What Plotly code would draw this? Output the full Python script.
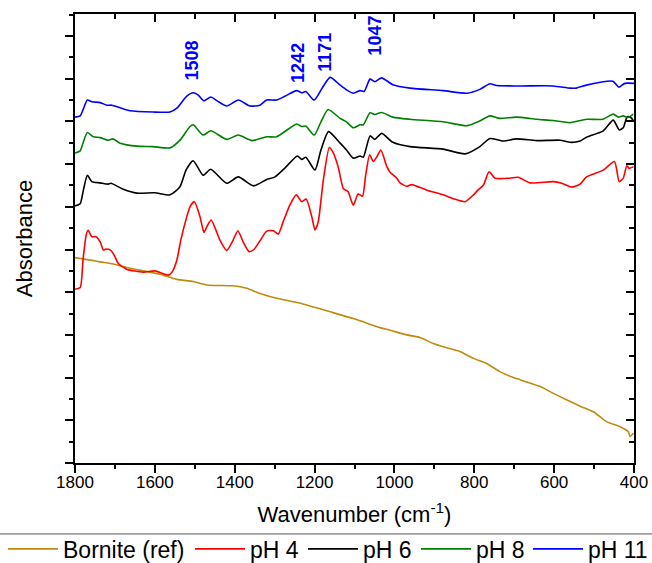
import plotly.graph_objects as go

# ---------------- data (wavenumber in cm-1, absorbance in arbitrary offset units) ----------------
bornite_wn = [1800, 1754, 1737, 1704, 1671, 1629, 1587, 1545, 1504, 1470, 1404, 1370, 1337, 1295,
              1236, 1161, 1099, 1036, 1011, 969, 936, 903, 869, 836, 802, 769, 736, 702, 669, 635,
              602, 569, 535, 502, 469, 435, 414, 410, 401]
bornite_ab = [4.81, 4.74, 4.71, 4.66, 4.58, 4.50, 4.42, 4.30, 4.25, 4.17, 4.15, 4.09, 3.97, 3.86,
              3.74, 3.54, 3.37, 3.17, 3.11, 3.00, 2.94, 2.80, 2.70, 2.61, 2.45, 2.33, 2.14, 2.00, 1.90, 1.79,
              1.63, 1.48, 1.33, 1.20, 0.97, 0.85, 0.73, 0.62, 0.70]

ph4_wn = [1800, 1787, 1780, 1772, 1767, 1758, 1747, 1737, 1729, 1722, 1712, 1702, 1692, 1671, 1629,
          1600, 1566, 1557, 1545, 1535, 1520, 1512, 1501, 1487, 1477, 1469, 1459, 1449, 1437, 1420,
          1404, 1392, 1379, 1364, 1352, 1337, 1320, 1303, 1291, 1279, 1262, 1246, 1232, 1221, 1207,
          1199, 1191, 1178, 1163, 1154, 1141, 1128, 1116, 1103, 1091, 1080, 1072, 1062, 1053, 1044,
          1034, 1019, 1011, 994, 986, 969, 957, 919, 878, 849, 823, 802, 791, 777, 763, 748, 711,
          690, 660, 602, 581, 556, 535, 519, 477, 449, 437, 427, 418, 412, 401]
ph4_ab = [4.07, 4.11, 4.75, 5.34, 5.45, 5.30, 5.30, 5.18, 4.99, 5.01, 4.99, 4.87, 4.68, 4.54, 4.47,
          4.50, 4.40, 4.47, 4.75, 5.22, 5.77, 6.00, 6.12, 5.77, 5.40, 5.55, 5.69, 5.50, 5.22, 4.98,
          5.22, 5.44, 5.18, 4.95, 5.00, 5.20, 5.43, 5.44, 5.36, 5.64, 6.04, 6.28, 6.12, 6.18, 5.77,
          5.46, 5.64, 6.63, 7.39, 7.28, 6.94, 6.43, 6.35, 6.04, 6.30, 6.25, 6.74, 7.22, 7.06, 7.17,
          7.33, 6.94, 6.81, 6.67, 6.56, 6.48, 6.52, 6.39, 6.28, 6.18, 6.12, 6.28, 6.39, 6.51, 6.82, 6.67, 6.67,
          6.69, 6.56, 6.59, 6.55, 6.46, 6.53, 6.70, 6.86, 7.06, 6.59, 6.67, 6.96, 6.90, 6.94]

ph6_wn = [1800, 1787, 1779, 1769, 1758, 1737, 1717, 1710, 1679, 1645, 1600, 1562, 1537, 1522, 1504,
          1479, 1460, 1420, 1391, 1353, 1320, 1299, 1274, 1243, 1232, 1222, 1199, 1184, 1165, 1136,
          1120, 1103, 1086, 1078, 1061, 1049, 1032, 1004, 961, 878, 823, 786, 761, 728, 694, 644,
          585, 560, 535, 519, 477, 452, 437, 427, 417, 408, 401]
ph6_ab = [6.02, 6.07, 6.39, 6.74, 6.59, 6.56, 6.53, 6.55, 6.41, 6.32, 6.33, 6.28, 6.47, 6.86, 7.08,
          6.74, 6.88, 6.55, 6.70, 6.49, 6.64, 6.70, 6.91, 7.19, 7.11, 7.16, 6.86, 7.33, 7.76, 7.49,
          7.33, 7.14, 7.19, 7.16, 7.66, 7.58, 7.72, 7.51, 7.41, 7.35, 7.24, 7.41, 7.60, 7.54, 7.59, 7.55,
          7.56, 7.51, 7.54, 7.63, 7.78, 8.03, 7.80, 7.85, 8.11, 8.09, 8.01]

ph8_wn = [1800, 1787, 1780, 1769, 1754, 1737, 1717, 1705, 1687, 1645, 1605, 1562, 1537, 1512, 1504,
          1479, 1460, 1420, 1391, 1357, 1320, 1295, 1245, 1232, 1222, 1201, 1184, 1166, 1136, 1120,
          1103, 1086, 1078, 1061, 1049, 1032, 1004, 961, 878, 818, 786, 761, 736, 694, 644, 603,
          560, 519, 478, 452, 439, 427, 415, 402]
ph8_ab = [7.26, 7.31, 7.49, 7.74, 7.64, 7.62, 7.56, 7.59, 7.49, 7.42, 7.41, 7.38, 7.56, 7.88, 7.92,
          7.68, 7.78, 7.58, 7.68, 7.55, 7.64, 7.64, 7.94, 7.88, 7.89, 7.68, 7.99, 8.28, 8.07, 7.99,
          7.85, 7.92, 7.92, 8.20, 8.16, 8.21, 8.10, 8.05, 7.99, 7.90, 8.01, 8.13, 8.07, 8.10, 8.05, 8.02,
          7.97, 8.05, 8.05, 8.17, 8.10, 8.13, 8.09, 8.17]

ph11_wn = [1800, 1787, 1780, 1769, 1758, 1737, 1720, 1708, 1687, 1662, 1605, 1562, 1545, 1520, 1504,
           1492, 1477, 1460, 1444, 1420, 1391, 1362, 1337, 1320, 1295, 1274, 1245, 1232, 1222, 1201,
           1181, 1161, 1136, 1120, 1103, 1086, 1076, 1061, 1049, 1032, 1004, 961, 878, 818, 786, 761,
           744, 686, 603, 560, 544, 519, 453, 438, 423, 400]
ph11_ab = [8.10, 8.13, 8.27, 8.50, 8.46, 8.44, 8.38, 8.38, 8.32, 8.25, 8.22, 8.22, 8.31, 8.59, 8.67,
           8.62, 8.48, 8.57, 8.48, 8.36, 8.50, 8.36, 8.38, 8.50, 8.50, 8.59, 8.72, 8.67, 8.70, 8.50,
           8.78, 9.03, 8.85, 8.74, 8.66, 8.72, 8.70, 8.99, 8.93, 9.02, 8.86, 8.78, 8.72, 8.66, 8.75, 8.88,
           8.84, 8.83, 8.83, 8.78, 8.78, 8.85, 8.94, 8.80, 8.89, 8.89]

series_names = ["Bornite (ref)", "pH 4", "pH 6", "pH 8", "pH 11"]
series_colors = ["#C08A10", "#FF0000", "#000000", "#008000", "#0000FF"]

peak_labels = ["1508", "1242", "1171", "1047"]
peak_pos = [1508, 1242, 1173, 1049]
peak_base = [8.90, 8.85, 9.11, 9.49]

x_ticks = [1800, 1600, 1400, 1200, 1000, 800, 600, 400]
x_range = [1800, 400]
y_range = [0, 10.515]

# ---------------- figure ----------------
FONT = "Liberation Sans, Arial, sans-serif"
legend_ids = ["legend", "legend2", "legend3", "legend4", "legend5"]
legend_x = [0.0046, 0.2914, 0.4647, 0.638, 0.8098]   # left edge of each legend entry (fraction of width)

fig = go.Figure()
all_x = [bornite_wn, ph4_wn, ph6_wn, ph8_wn, ph11_wn]
all_y = [bornite_ab, ph4_ab, ph6_ab, ph8_ab, ph11_ab]
for name, col, xs, ys, lid in zip(series_names, series_colors, all_x, all_y, legend_ids):
    fig.add_trace(go.Scatter(x=xs, y=ys, mode="lines", name=name, legend=lid,
                             line=dict(color=col, width=1.6, shape="spline", smoothing=0.6)))

# invisible trace so that the mirrored top/right axes are drawn
fig.add_trace(go.Scatter(x=[None], y=[None], xaxis="x2", yaxis="y2", showlegend=False,
                         hoverinfo="skip", mode="lines"))

for lab, xp, yb in zip(peak_labels, peak_pos, peak_base):
    fig.add_annotation(x=xp, y=yb, text="<b>%s</b>" % lab, textangle=-90, showarrow=False,
                       xanchor="center", yanchor="bottom",
                       font=dict(family=FONT, size=18, color="#0000FF"))

fig.add_shape(type="line", xref="paper", yref="paper", x0=-0.14, x1=1.04, y0=-0.158, y1=-0.158,
              line=dict(color="#555555", width=1))

axis_common = dict(showgrid=False, zeroline=False, showline=True, linecolor="black", linewidth=2,
                   tickcolor="black", tickwidth=1.6)

legend_layout = {}
for lid, lx in zip(legend_ids, legend_x):
    legend_layout[lid] = dict(orientation="h", xref="container", yref="container", x=lx,
                              xanchor="left", y=0.025, yanchor="middle",
                              font=dict(family=FONT, size=23), bgcolor="rgba(0,0,0,0)",
                              itemwidth=50, tracegroupgap=0)

fig.update_layout(
    width=652, height=563,
    margin=dict(l=75, r=18, t=14, b=100, autoexpand=False),
    plot_bgcolor="white", paper_bgcolor="white",
    font=dict(family=FONT, color="black"),
    showlegend=True,
    xaxis=dict(range=x_range, tickmode="array", tickvals=x_ticks, ticks="outside", ticklen=8,
               minor=dict(dtick=100, ticks="outside", ticklen=4, tickcolor="black", tickwidth=1.6),
               tickfont=dict(size=17, family=FONT), ticklabelstandoff=-5, automargin=True,
               title=dict(text="Wavenumber (cm<sup>-1</sup>)", font=dict(size=22, family=FONT), standoff=24),
               mirror=False, **axis_common),
    yaxis=dict(range=y_range, dtick=1, tick0=0, ticks="outside", ticklen=8, showticklabels=False,
               minor=dict(dtick=0.5, ticks="outside", ticklen=4, tickcolor="black", tickwidth=1.6),
               title=dict(text="\u00a0\u00a0\u00a0\u00a0Absorbance", font=dict(size=22, family=FONT),
                          standoff=26),
               automargin=False, mirror=False, **axis_common),
    xaxis2=dict(range=x_range, overlaying="x", anchor="y2", side="top", tickmode="array",
                tickvals=x_ticks, ticks="inside", ticklen=8, showticklabels=False, automargin=False,
                minor=dict(dtick=100, ticks="inside", ticklen=5, tickcolor="black", tickwidth=1.6),
                **axis_common),
    yaxis2=dict(range=y_range, overlaying="y", anchor="x2", side="right", dtick=1, tick0=0,
                ticks="inside", ticklen=8, showticklabels=False, automargin=False,
                minor=dict(dtick=0.5, ticks="inside", ticklen=5, tickcolor="black", tickwidth=1.6),
                **axis_common),
    **legend_layout,
)

fig.write_html("out.html")
